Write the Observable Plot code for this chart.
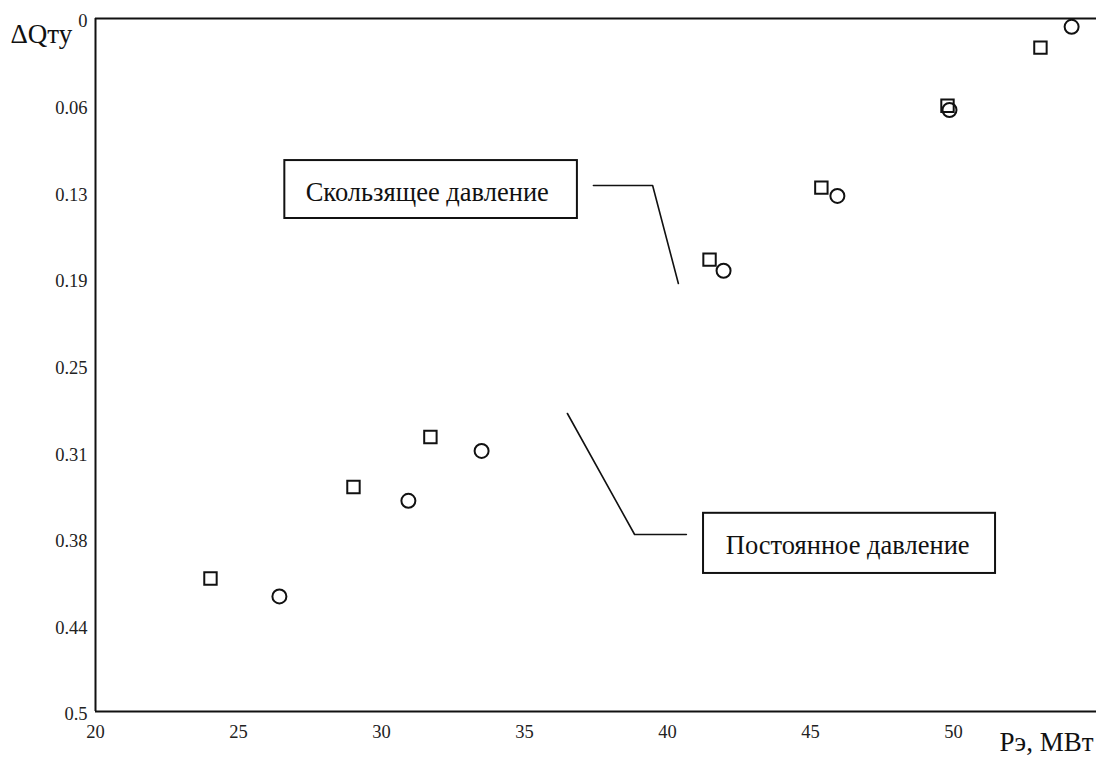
<!DOCTYPE html>
<html>
<head>
<meta charset="utf-8">
<script src="https://cdn.jsdelivr.net/npm/d3@7"></script>
<script src="https://cdn.jsdelivr.net/npm/@observablehq/plot@0.6"></script>
<style>
  html, body { margin: 0; padding: 0; background: #fff; }
  #chart svg { display: block; }
</style>
</head>
<body>
<div id="chart"></div>
<script>
// Series: squares and circles (Pэ, MW vs ΔQту)
const squareX = [24.02, 29.02, 31.71, 41.47, 45.38, 49.79, 53.04];
const squareY = [0.404, 0.338, 0.302, 0.174, 0.122, 0.063, 0.021];
const circleX = [26.43, 30.94, 33.50, 41.96, 45.94, 49.86, 54.13];
const circleY = [0.417, 0.348, 0.312, 0.182, 0.128, 0.066, 0.006];

// Axis ticks
const xTickValues = [20, 25, 30, 35, 40, 45, 50];
const yTickValues = [0, 0.0625, 0.125, 0.1875, 0.25, 0.3125, 0.375, 0.4375, 0.5];
const yTickLabels = ["0", "0.06", "0.13", "0.19", "0.25", "0.31", "0.38", "0.44", "0.5"];

const xLabel = "Pэ, MBт";
const yLabel = "ΔQту";

// Annotation labels (in data coordinates)
const labelTexts = ["Скользящее давление", "Постоянное давление"];
const labelBoxX1 = [26.62, 41.26];
const labelBoxX2 = [36.85, 51.47];
const labelBoxY1 = [0.1025, 0.357];
const labelBoxY2 = [0.1443, 0.4004];
const labelTextX = [31.60, 46.30];
const labelTextY = [0.1255, 0.3800];
const leader1X = [37.41, 39.48, 40.38];
const leader1Y = [0.1205, 0.1205, 0.1912];
const leader2X = [36.50, 38.85, 40.66];
const leader2Y = [0.285, 0.3723, 0.3723];

const squares = squareX.map((x, i) => ({x, y: squareY[i]}));
const circles = circleX.map((x, i) => ({x, y: circleY[i]}));
const boxes = labelTexts.map((t, i) => ({
  t, x1: labelBoxX1[i], x2: labelBoxX2[i], y1: labelBoxY1[i], y2: labelBoxY2[i],
  tx: labelTextX[i], ty: labelTextY[i]
}));
const leaders = [
  ...leader1X.map((x, i) => ({x, y: leader1Y[i], g: 1})),
  ...leader2X.map((x, i) => ({x, y: leader2Y[i], g: 2}))
];

const serif = "'Liberation Serif', 'DejaVu Serif', serif";

const chart = Plot.plot({
  width: 1096,
  height: 762,
  marginLeft: 95,
  marginRight: 0,
  marginTop: 18,
  marginBottom: 51,
  style: { fontFamily: serif, background: "#fff", color: "#222" },
  x: { domain: [20, 55] },
  y: { domain: [0, 0.5], reverse: true },
  marks: [
    Plot.axisX({ticks: xTickValues, tickSize: 0, tickPadding: 13, fontSize: 18.5, label: null}),
    Plot.axisY({ticks: yTickValues, tickFormat: (d) => yTickLabels[yTickValues.indexOf(d)], tickSize: 0, tickPadding: 8, dy: 3, fontSize: 18.5, label: null}),
    Plot.ruleX([20], {stroke: "#111", strokeWidth: 2}),
    Plot.ruleY([0, 0.5], {stroke: "#111", strokeWidth: 2}),
    Plot.text([yLabel], {frameAnchor: "top-left", lineAnchor: "middle", dx: -85, dy: 16, fontSize: 27, fill: "#111", textAnchor: "start"}),
    Plot.text([xLabel], {frameAnchor: "bottom-right", lineAnchor: "middle", dx: -3, dy: 31, fontSize: 27, fill: "#111", textAnchor: "end"}),
    Plot.dot(squares, {x: "x", y: "y", symbol: "square", r: 7, stroke: "#111", strokeWidth: 2, fill: "none"}),
    Plot.dot(circles, {x: "x", y: "y", symbol: "circle", r: 7, stroke: "#111", strokeWidth: 2, fill: "none", clip: true}),
    Plot.line(leaders, {x: "x", y: "y", z: "g", stroke: "#111", strokeWidth: 1.6}),
    Plot.rect(boxes, {x1: "x1", x2: "x2", y1: "y1", y2: "y2", stroke: "#111", strokeWidth: 2, fill: "#fff"}),
    Plot.text(boxes, {x: "tx", y: "ty", text: "t", fontSize: 26.5, fill: "#111"})
  ]
});
document.getElementById("chart").appendChild(chart);
</script>
</body>
</html>
